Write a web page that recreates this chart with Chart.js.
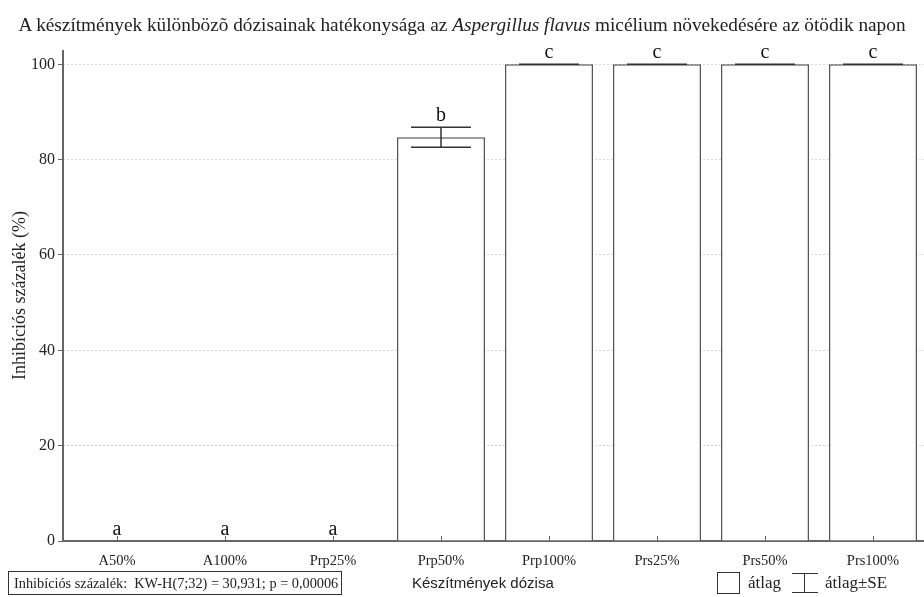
<!DOCTYPE html>
<html lang="hu">
<head>
<meta charset="utf-8">
<script src="https://cdn.jsdelivr.net/npm/chart.js@4.4.1/dist/chart.umd.min.js"></script>
<style>
    html, body { margin: 0; padding: 0; background: #fff; overflow: hidden; }
    #wrap { position: relative; width: 928px; height: 597px; }
    #chart { position: absolute; left: 0; top: 0; }
    .serif { font-family: 'Liberation Serif', 'DejaVu Serif', serif; color: #222; }
    #title { position: absolute; left: 0; top: 14px; width: 924px; text-align: center; font-size: 19.3px; white-space: nowrap; }
    #stats { position: absolute; left: 8px; top: 571px; width: 334px; height: 24px; border: 1px solid #333;
             font-size: 14.3px; line-height: 22px; padding-left: 5px; box-sizing: border-box; white-space: nowrap; }
    #xlabel { position: absolute; left: 412px; top: 574px; font-family: 'Liberation Sans', Arial, sans-serif; font-size: 15px; color: #222; white-space: nowrap; }
    #legend { position: absolute; left: 0; top: 572px; height: 22px; font-size: 17px; white-space: nowrap; }
    #legend .box { position: absolute; left: 717px; top: 0; width: 23px; height: 22px; border: 1px solid #333; box-sizing: border-box; }
    #legend .t1 { position: absolute; left: 748px; top: 1px; }
    #legend .err { position: absolute; left: 792px; top: 1px; width: 26px; height: 20px; }
    #legend .err .cap { position: absolute; left: 0; width: 26px; height: 0; border-top: 1px solid #333; }
    #legend .err .stem { position: absolute; left: 12px; top: 0; width: 0; height: 20px; border-left: 1px solid #333; }
    #legend .t2 { position: absolute; left: 825px; top: 1px; }
</style>
</head>
<body>
<div id="wrap">
    <canvas id="chart" width="928" height="597"></canvas>
    <div id="title" class="serif">A készítmények különbözõ dózisainak hatékonysága az <i>Aspergillus flavus</i> micélium növekedésére az ötödik napon</div>
    <div id="stats" class="serif">Inhibíciós százalék:&nbsp; KW-H(7;32) = 30,931; p = 0,00006</div>
    <div id="xlabel">Készítmények dózisa</div>
    <div id="legend" class="serif">
        <div class="box"></div><span class="t1">átlag</span>
        <div class="err"><div class="cap" style="top:0"></div><div class="stem"></div><div class="cap" style="top:19px"></div></div>
        <span class="t2">átlag±SE</span>
    </div>
</div>
<script>
    // adatok
    const categories = ['A50%', 'A100%', 'Prp25%', 'Prp50%', 'Prp100%', 'Prs25%', 'Prs50%', 'Prs100%'];
    const means = [0, 0, 0, 84.7, 100, 100, 100, 100];
    const stdErrors = [0, 0, 0, 2.1, 0, 0, 0, 0];
    const groupLetters = ['a', 'a', 'a', 'b', 'c', 'c', 'c', 'c'];
    const yTicks = [0, 20, 40, 60, 80, 100];

    const serif = "'Liberation Serif', 'DejaVu Serif', serif";
    const axisColor = '#666';

    // y tengely vonala (a pontozott rács miatt külön rajzolva)
    const axisPlugin = {
        id: 'axisLine',
        beforeDatasetsDraw(chart) {
            const ctx = chart.ctx;
            const area = chart.chartArea;
            ctx.save();
            ctx.strokeStyle = axisColor;
            ctx.lineWidth = 2;
            ctx.beginPath();
            ctx.moveTo(area.left, area.top);
            ctx.lineTo(area.left, area.bottom);
            ctx.stroke();
            ctx.restore();
        }
    };

    // hibasávok, csoportbetűk és befelé álló x tickek
    const annotatePlugin = {
        id: 'annotate',
        afterDatasetsDraw(chart) {
            const ctx = chart.ctx;
            const y = chart.scales.y;
            const x = chart.scales.x;
            const meta = chart.getDatasetMeta(0);
            ctx.save();
            ctx.strokeStyle = '#333';
            ctx.lineWidth = 1.5;
            meta.data.forEach((bar, i) => {
                const top = y.getPixelForValue(means[i] + stdErrors[i]);
                const bottom = y.getPixelForValue(means[i] - stdErrors[i]);
                const half = 30;
                if (means[i] > 0) {
                    ctx.beginPath();
                    ctx.moveTo(bar.x - half, top); ctx.lineTo(bar.x + half, top);
                    ctx.moveTo(bar.x - half, bottom); ctx.lineTo(bar.x + half, bottom);
                    ctx.moveTo(bar.x, top); ctx.lineTo(bar.x, bottom);
                    ctx.stroke();
                }
                ctx.fillStyle = '#111';
                ctx.font = '20px ' + serif;
                ctx.textAlign = 'center';
                ctx.textBaseline = 'alphabetic';
                ctx.fillText(groupLetters[i], bar.x, top - 6);
            });
            ctx.strokeStyle = axisColor;
            ctx.lineWidth = 1;
            categories.forEach((c, i) => {
                const px = Math.round(x.getPixelForValue(i)) + 0.5;
                ctx.beginPath();
                ctx.moveTo(px, y.bottom);
                ctx.lineTo(px, y.bottom - 5);
                ctx.stroke();
            });
            ctx.restore();
        }
    };

    new Chart(document.getElementById('chart'), {
        type: 'bar',
        data: {
            labels: categories,
            datasets: [{
                data: means,
                backgroundColor: '#ffffff',
                borderColor: '#555',
                borderWidth: 1.5,
                barPercentage: 0.815,
                categoryPercentage: 1
            }]
        },
        options: {
            responsive: false,
            animation: false,
            layout: { padding: { top: 50, right: 1, left: 0, bottom: 0 } },
            plugins: {
                legend: { display: false },
                tooltip: { enabled: false },
                title: { display: false }
            },
            scales: {
                x: {
                    grid: { display: false },
                    border: { display: true, color: axisColor, width: 2 },
                    ticks: { color: '#222', font: { family: serif, size: 14.5 }, padding: 3, maxRotation: 0, autoSkip: false },
                    afterFit(scale) { scale.height = 56; }
                },
                y: {
                    min: 0,
                    max: 103,
                    afterBuildTicks(scale) { scale.ticks = yTicks.map(v => ({ value: v })); },
                    grid: { color: '#d6d6d6', lineWidth: 1, tickLength: 5, tickColor: axisColor, tickWidth: 1, tickBorderDash: [] },
                    border: { display: false, dash: [2, 2] },
                    ticks: { color: '#222', font: { family: serif, size: 16 }, padding: 3 },
                    title: { display: true, text: 'Inhibíciós százalék (%)', color: '#222', font: { family: serif, size: 18 }, padding: { top: 9, bottom: 0 } },
                    afterFit(scale) { scale.width = 63; }
                }
            }
        },
        plugins: [axisPlugin, annotatePlugin]
    });
</script>
</body>
</html>
